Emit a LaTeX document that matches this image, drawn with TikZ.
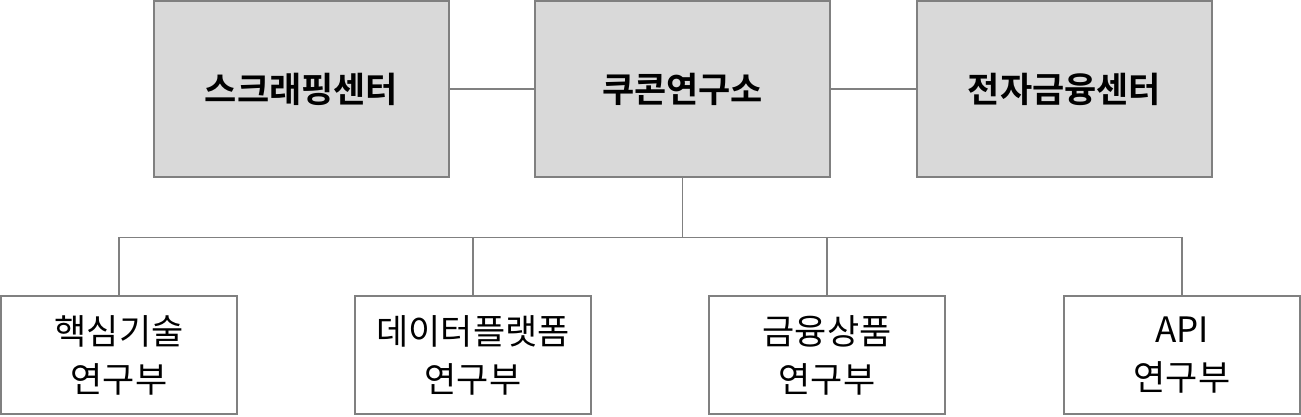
\documentclass[tikz,border=0pt]{standalone}
\usepackage{fontspec}
\setmainfont{Noto Sans CJK KR}[BoldFont={Noto Sans CJK KR Bold}]
\usepackage{tikz}
\usetikzlibrary{positioning}
\usepackage{xcolor}
\definecolor{boxline}{HTML}{808080}
\definecolor{boxfill}{HTML}{D9D9D9}

\tikzset{
  centerbox/.style={draw=boxline,fill=boxfill,line width=1.4pt,minimum width=295pt,minimum height=176pt,inner sep=0pt,font=\fontsize{35}{42}\selectfont\bfseries},
  deptbox/.style={draw=boxline,fill=white,line width=1.4pt,minimum width=236pt,minimum height=118pt,inner sep=0pt,align=center,font=\fontsize{35}{48}\selectfont},
  link/.style={draw=boxline,line width=1.4pt}
}

\begin{document}
\begin{tikzpicture}[x=1pt,y=-1pt]
				\useasboundingbox (0,0) rectangle (1301,416);
				% top row
				\node[centerbox] (scrap) at (301.5,89) {스크래핑센터};
				\node[centerbox] (coocon) at (682.5,89) {쿠콘연구소};
				\node[centerbox] (efin) at (1064.5,89) {전자금융센터};
				% departments
				\node[deptbox] (core) at (119,355) {핵심기술\\연구부};
				\node[deptbox] (data) at (473,355) {데이터플랫폼\\연구부};
				\node[deptbox] (fin) at (827,355) {금융상품\\연구부};
				\node[deptbox] (api) at (1182,355) {API\\연구부};
				% links
				\draw[link] (scrap) -- (coocon);
				\draw[link] (coocon) -- (efin);
				\draw[link] (coocon.south) -- ++(0,60) coordinate (bus);
				\foreach \dept in {core,data,fin,api}
				    \draw[link] (bus) -| (\dept.north);
			\end{tikzpicture}
\end{document}
